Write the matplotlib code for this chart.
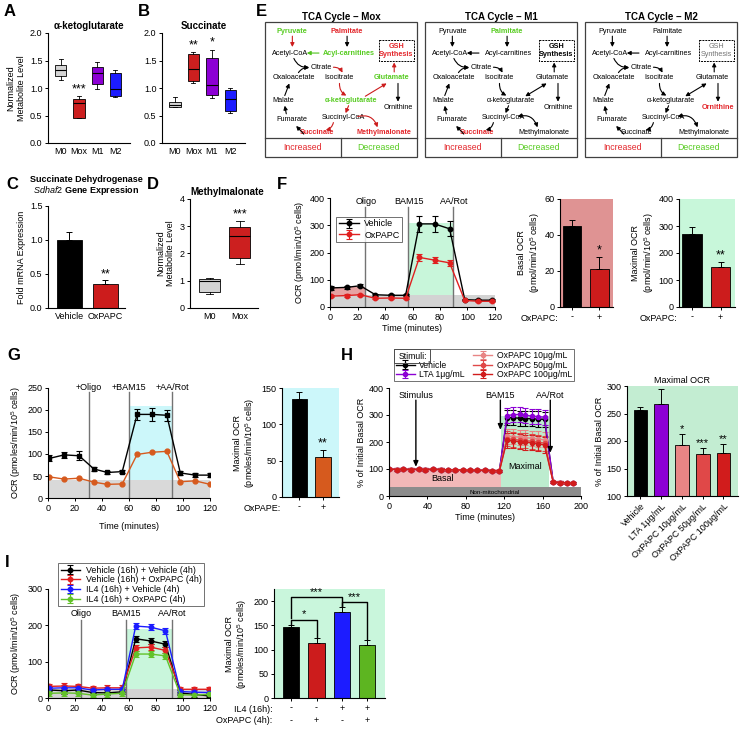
import numpy as np
import matplotlib
matplotlib.use('Agg')
import matplotlib.pyplot as plt
from matplotlib.patches import Rectangle
from matplotlib.lines import Line2D

plt.rcParams['font.family'] = ['Liberation Sans', 'DejaVu Sans']
plt.rcParams['mathtext.fontset'] = 'custom'
plt.rcParams['mathtext.rm'] = 'Liberation Sans'
plt.rcParams['mathtext.it'] = 'Liberation Sans:italic'
plt.rcParams['mathtext.bf'] = 'Liberation Sans:bold'
plt.rcParams['font.size'] = 6.5

W, H = 740, 731

# ---------------- data ----------------
# A / B: box plots (median, q1, q3, whisker low, whisker high)
ab_groups = ['M0', 'Mox', 'M1', 'M2']
a_med = [1.33, 0.73, 1.27, 0.98]
a_q1 = [1.22, 0.45, 1.07, 0.86]
a_q3 = [1.42, 0.80, 1.39, 1.27]
a_lo = [1.15, 0.45, 0.99, 0.83]
a_hi = [1.52, 0.85, 1.47, 1.32]
a_stars = ['', '***', '', '']

b_med = [0.70, 1.35, 1.06, 0.80]
b_q1 = [0.66, 1.12, 0.87, 0.59]
b_q3 = [0.75, 1.62, 1.55, 0.97]
b_lo = [0.65, 1.10, 0.82, 0.55]
b_hi = [0.83, 1.65, 1.70, 1.00]
b_stars = ['', '**', '*', '']

# C: Sdhaf2 expression
c_groups = ['Vehicle', 'OxPAPC']
c_vals = [1.0, 0.36]
c_err = [0.12, 0.05]
c_stars = ['', '**']

# D: methylmalonate
d_groups = ['M0', 'Mox']
d_med = [1.0, 2.63]
d_q1 = [0.58, 1.85]
d_q3 = [1.05, 2.98]
d_lo = [0.50, 1.62]
d_hi = [1.10, 3.20]
d_stars = ['', '***']

# F: Seahorse, vehicle vs OxPAPC
f_t = [1, 12, 22, 33, 44, 55, 65, 76, 87, 98, 108, 118]
f_veh = [70, 72, 78, 45, 43, 43, 305, 305, 287, 27, 25, 25]
f_veh_err = [6, 6, 6, 4, 4, 4, 30, 28, 28, 3, 3, 3]
f_ox = [40, 42, 45, 32, 33, 32, 182, 172, 162, 24, 21, 21]
f_ox_err = [4, 4, 4, 3, 3, 3, 12, 10, 10, 3, 3, 3]
f_inj = [25.5, 56.5, 89.7]
f_inj_labels = ['Oligo', 'BAM15', 'AA/Rot']
f_basal = [45, 21]
f_basal_err = [3.5, 7]
f_basal_stars = ['', '*']
f_max = [270, 150]
f_max_err = [27, 17]
f_max_stars = ['', '**']

# G: OxPAPE
g_t = [1, 12, 23, 34, 44, 55, 66, 77, 88, 98, 109, 120]
g_veh = [90, 98, 96, 66, 58, 60, 190, 190, 188, 57, 52, 52]
g_veh_err = [7, 6, 10, 5, 3, 4, 13, 14, 13, 5, 4, 4]
g_ox = [48, 43, 45, 36, 31, 32, 99, 104, 106, 37, 39, 31]
g_inj = [30, 60, 92]
g_inj_labels = ['+Oligo', '+BAM15', '+AA/Rot']
g_max = [135, 55]
g_max_err = [10, 10]
g_max_stars = ['', '**']

# H: stimuli, % of initial basal OCR
h_t = [0, 8, 15, 23, 31, 38, 46, 54, 61, 69, 77, 84, 92, 100, 107, 115,
       123, 129, 136, 142, 149, 155, 162, 171, 178, 185, 192]
h_basal = [100, 98, 99, 98, 99, 98, 99, 98, 97, 97, 96, 96, 95, 95, 94, 93]
h_post = [52, 50, 49, 48]
h_max = {
    'Vehicle': [290, 290, 288, 287, 286, 285, 284],
    'LTA 1μg/mL': [298, 301, 302, 299, 296, 294, 292],
    'OxPAPC 10μg/mL': [222, 220, 218, 216, 214, 211, 208],
    'OxPAPC 50μg/mL': [212, 210, 207, 205, 203, 199, 196],
    'OxPAPC 100μg/mL': [206, 204, 201, 199, 197, 193, 189],
}
h_max_err = [28, 28, 28, 28, 28, 28, 28]
h_groups = ['Vehicle', 'LTA 1μg/mL', 'OxPAPC 10μg/mL', 'OxPAPC 50μg/mL', 'OxPAPC 100μg/mL']
h_bar = [256, 267, 193, 176, 178]
h_bar_err = [6, 27, 20, 12, 17]
h_bar_stars = ['', '', '*', '***', '**']

# I: IL4 +/- OxPAPC
i_t = [1, 12, 22, 33, 44, 55, 65, 76, 87, 98, 108, 119]
i_series = {
    'Vehicle (16h) + Vehicle (4h)': [22, 20, 22, 15, 14, 17, 163, 157, 148, 14, 10, 6],
    'Vehicle (16h) + OxPAPC (4h)': [32, 33, 32, 27, 28, 28, 138, 140, 131, 24, 24, 24],
    'IL4 (16h) + Vehicle (4h)': [27, 28, 28, 22, 24, 24, 198, 195, 185, 18, 16, 15],
    'IL4 (16h) + OxPAPC (4h)': [13, 14, 13, 8, 11, 13, 121, 121, 116, 9, 8, 10],
}
i_err = [7, 8, 7, 6, 7, 7, 8, 8, 8, 7, 7, 7]
i_inj = [24.5, 58, 92]
i_inj_labels = ['Oligo', 'BAM15', 'AA/Rot']
i_max = [146, 113, 177, 109]
i_max_err = [5, 10, 10, 10]
i_il4 = ['-', '-', '+', '+']
i_oxpapc = ['-', '+', '-', '+']
i_brackets = [(0, 1, 162, 152, 124, '*'), (0, 2, 208, 165, 190, '***'),
              (2, 3, 199, 190, 122, '***')]

RED = '#cc1c1c'
PURPLE = '#8c00d4'
BLUE = '#1c1cff'
GREEN = '#5db521'
ORANGE = '#d65a1e'
LGRAY = '#d3d3d3'
TXT_RED = '#e3262b'
TXT_GREEN = '#58cc22'

fig = plt.figure(figsize=(W / 100, H / 100), dpi=100)


def add_ax(x0, y0, x1, y1):
    return fig.add_axes([x0 / W, 1 - y1 / H, (x1 - x0) / W, (y1 - y0) / H])


def clean(ax):
    for s in ['top', 'right']:
        ax.spines[s].set_visible(False)
    for s in ['left', 'bottom']:
        ax.spines[s].set_linewidth(0.8)
    ax.tick_params(labelsize=6.5, length=2.5, width=0.7, pad=1.5)


def panel_label(x, y, s):
    fig.text(x / W, 1 - y / H, s, fontsize=12, fontweight='bold', va='top', ha='left')


def boxpanel(ax, med, q1, q3, lo, hi, colors, stars, width, pad):
    stats = [dict(med=m, q1=a, q3=b, whislo=l, whishi=h, fliers=[])
             for m, a, b, l, h in zip(med, q1, q3, lo, hi)]
    pos = np.arange(1, len(med) + 1)
    bp = ax.bxp(stats, positions=pos, widths=width, patch_artist=True, showfliers=False,
                capwidths=width * 0.35,
                boxprops=dict(lw=0.6, edgecolor='k'),
                medianprops=dict(color='k', lw=0.8),
                whiskerprops=dict(lw=0.6), capprops=dict(lw=0.6))
    for patch, c in zip(bp['boxes'], colors):
        patch.set_facecolor(c)
    for p, h, s in zip(pos, hi, stars):
        if s:
            ax.text(p, h + pad, s, ha='center', va='bottom', fontsize=9)


def barpanel(ax, vals, errs, colors, stars, width, pad, fs=9):
    x = np.arange(len(vals))
    ax.bar(x, vals, width, color=colors, edgecolor='k', lw=0.6,
           yerr=[np.zeros(len(vals)), errs], capsize=2.2,
           error_kw=dict(elinewidth=0.7, capthick=0.7, ecolor='k'))
    for xi, v, e, s in zip(x, vals, errs, stars):
        if s:
            ax.text(xi, v + e + pad, s, ha='center', va='bottom', fontsize=fs)
    return x


def tc(ax, t, y, e, color, marker='o', label=None, ms=3.2):
    ax.errorbar(t, y, yerr=e, color=color, marker=marker, ms=ms, lw=1.0, capsize=2,
                elinewidth=0.8, capthick=0.8, label=label)


# ---------------- A / B ----------------
box_cols = ['#d4d4d4', '#cc1f1f', PURPLE, BLUE]
for lab, lx, (x0, x1), title, d in [
        ('A', 4, (48, 130), 'α-ketoglutarate', (a_med, a_q1, a_q3, a_lo, a_hi, a_stars)),
        ('B', 138, (162, 245), 'Succinate', (b_med, b_q1, b_q3, b_lo, b_hi, b_stars))]:
    ax = add_ax(x0, 33, x1, 143)
    clean(ax)
    boxpanel(ax, *d[:5], box_cols, d[5], 0.62, 0.02)
    ax.set_ylim(0, 2.0)
    ax.set_yticks([0, 0.5, 1.0, 1.5, 2.0])
    ax.set_yticklabels(['0.0', '0.5', '1.0', '1.5', '2.0'])
    ax.set_xlim(0.3, 4.8)
    ax.set_xticks(np.arange(1, 5))
    ax.set_xticklabels(ab_groups)
    ax.tick_params(axis='x', length=0, pad=3)
    ax.set_title(title, fontsize=7, fontweight='bold', pad=3)
    if lab == 'A':
        ax.set_ylabel('Normalized\nMetabolite Level', fontsize=6.5, labelpad=3)
    panel_label(lx, 4, lab)

# ---------------- C ----------------
ax = add_ax(48, 206, 125, 308)
clean(ax)
barpanel(ax, c_vals, c_err, ['k', RED], c_stars, 0.7, 0.0)
ax.set_ylim(0, 1.5)
ax.set_yticks([0, 0.5, 1.0, 1.5])
ax.set_yticklabels(['0.0', '0.5', '1.0', '1.5'])
ax.set_xlim(-0.6, 1.55)
ax.set_xticks([0, 1])
ax.set_xticklabels(c_groups)
ax.tick_params(axis='x', length=0, pad=3)
ax.set_ylabel('Fold mRNA Expression', fontsize=6.5, labelpad=3)
fig.text(86 / W, 1 - 186 / H, 'Succinate Dehydrogenase\n$\\it{Sdhaf2}$ Gene Expression',
         ha='center', va='center', fontsize=6.5, fontweight='bold', linespacing=1.1)
panel_label(6, 177, 'C')

# ---------------- D ----------------
ax = add_ax(190, 199, 258, 308)
clean(ax)
boxpanel(ax, d_med, d_q1, d_q3, d_lo, d_hi, ['#d4d4d4', '#cc1f1f'], d_stars, 0.7, 0.02)
ax.set_ylim(0, 4)
ax.set_yticks([0, 1, 2, 3, 4])
ax.set_xlim(0.35, 2.6)
ax.set_xticks([1, 2])
ax.set_xticklabels(d_groups)
ax.tick_params(axis='x', length=0, pad=3)
ax.set_ylabel('Normalized\nMetabolite Level', fontsize=6.5, labelpad=3)
ax.set_title('Methylmalonate', fontsize=7, fontweight='bold', pad=3, loc='left', x=0.0)
panel_label(147, 177, 'D')

# ---------------- E ----------------
nodes = {
    'Pyruvate': (0.18, 0.07), 'Palmitate': (0.54, 0.07),
    'Acetyl-CoA': (0.165, 0.23), 'Acyl-carnitines': (0.55, 0.23),
    'Citrate': (0.37, 0.34), 'Oxaloacetate': (0.19, 0.41),
    'Isocitrate': (0.49, 0.41), 'Glutamate': (0.835, 0.41),
    'Malate': (0.12, 0.58), 'α-ketoglutarate': (0.565, 0.58),
    'Ornithine': (0.877, 0.63), 'Fumarate': (0.175, 0.72),
    'Succinyl-CoA': (0.515, 0.71), 'Succinate': (0.34, 0.82),
    'Methylmalonate': (0.785, 0.82),
}
edges = {
    'pyr': (0.18, 0.105, 0.18, 0.185, 0), 'pal': (0.54, 0.105, 0.54, 0.185, 0),
    'acyl': (0.355, 0.23, 0.275, 0.23, 0), 'accoa': (0.19, 0.27, 0.29, 0.335, 0.35),
    'oaa': (0.22, 0.375, 0.29, 0.34, -0.3), 'cit': (0.45, 0.335, 0.51, 0.375, -0.3),
    'iso': (0.49, 0.455, 0.535, 0.545, 0.3), 'akg_glu': (0.66, 0.55, 0.80, 0.455, 0),
    'glu_gsh': (0.85, 0.37, 0.85, 0.30, 0), 'glu_orn': (0.875, 0.455, 0.875, 0.59, 0),
    'akg_succoa': (0.55, 0.62, 0.53, 0.675, 0),
    'succoa_suc': (0.45, 0.745, 0.40, 0.80, -0.3),
    'succoa_mma': (0.61, 0.70, 0.74, 0.78, -0.45),
    'suc_fum': (0.255, 0.83, 0.205, 0.77, 0), 'fum_mal': (0.14, 0.68, 0.13, 0.62, 0),
    'mal_oaa': (0.13, 0.545, 0.16, 0.455, 0),
}
e_panels = [
    (265, 'TCA Cycle – Mox',
     {'Palmitate': 'up', 'Succinate': 'up', 'Methylmalonate': 'up', 'GSH': 'up',
      'Pyruvate': 'down', 'Acyl-carnitines': 'down', 'Glutamate': 'down',
      'α-ketoglutarate': 'down'},
     {'pyr': RED, 'cit': RED, 'iso': RED, 'akg_glu': RED, 'glu_gsh': RED,
      'akg_succoa': RED, 'succoa_suc': RED, 'succoa_mma': RED, 'acyl': '#4fc21c'}, []),
    (425, 'TCA Cycle – M1', {'Palmitate': 'down', 'Succinate': 'up', 'GSH': 'bold'}, {},
     ['akg_glu', 'succoa_mma']),
    (585, 'TCA Cycle – M2', {'Ornithine': 'up', 'GSH': 'gray'}, {},
     ['akg_glu', 'succoa_mma']),
]
for x0, title, status, ecol, double in e_panels:
    ax = add_ax(x0, 22, x0 + 152, 157)
    ax.set_xlim(0, 1)
    ax.set_ylim(1, 0)
    ax.axis('off')
    ax.add_patch(Rectangle((0, 0), 1, 1, fill=False, lw=0.9, ec='0.25', clip_on=False))
    ax.plot([0, 1], [0.86, 0.86], color='0.25', lw=0.9, clip_on=False)
    ax.plot([0.5, 0.5], [0.86, 1], color='0.25', lw=0.9, clip_on=False)
    ax.text(0.25, 0.93, 'Increased', color=TXT_RED, ha='center', va='center', fontsize=6.3)
    ax.text(0.75, 0.93, 'Decreased', color=TXT_GREEN, ha='center', va='center', fontsize=6.3)
    ax.set_title(title, fontsize=7, fontweight='bold', pad=1.5)
    for name, (nx, ny) in nodes.items():
        st = status.get(name)
        col = TXT_RED if st == 'up' else TXT_GREEN if st == 'down' else 'k'
        wt = 'bold' if st in ('up', 'down') else 'normal'
        ax.text(nx, ny, name, ha='center', va='center', fontsize=5.2, color=col,
                fontweight=wt)
    ax.add_patch(Rectangle((0.75, 0.13), 0.23, 0.16, fill=False, ls=(0, (2, 1)),
                           lw=0.7, ec='k'))
    gst = status.get('GSH')
    gcol = TXT_RED if gst == 'up' else '0.45' if gst == 'gray' else 'k'
    ax.text(0.865, 0.21, 'GSH\nSynthesis', ha='center', va='center', fontsize=5.2,
            color=gcol, fontweight='normal' if gst == 'gray' else 'bold', linespacing=1.3)
    for key, (ax0, ay0, ax1, ay1, rad) in edges.items():
        style = '<|-|>' if key in double else '-|>'
        ax.annotate('', xy=(ax1, ay1), xytext=(ax0, ay0),
                    arrowprops=dict(arrowstyle=style + ',head_length=0.35,head_width=0.18',
                                    color=ecol.get(key, 'k'), lw=0.8, shrinkA=0,
                                    shrinkB=0, connectionstyle=f'arc3,rad={rad}'))
panel_label(256, 4, 'E')

# ---------------- F ----------------
ax = add_ax(330, 198, 495, 307)
clean(ax)
ax.fill_between([0, 120], 0, 45, color=LGRAY, lw=0)
ax.fill_between([0, f_inj[0]], 45, 75, color='#e7a3a3', lw=0)
ax.fill_between([f_inj[1], f_inj[2]], 45, 308, color='#c8f6da', lw=0)
for xi, lb in zip(f_inj, f_inj_labels):
    ax.plot([xi, xi], [0, 368], color='0.45', lw=1)
    ax.text(xi + 1, 372, lb, ha='center', va='bottom', fontsize=6.5)
tc(ax, f_t, f_veh, f_veh_err, 'k', label='Vehicle')
tc(ax, f_t, f_ox, f_ox_err, '#e02020', label='OxPAPC')
ax.set_xlim(0, 120)
ax.set_ylim(0, 400)
ax.set_xticks(range(0, 121, 20))
ax.set_yticks(range(0, 401, 100))
ax.set_xlabel('Time (minutes)', fontsize=6.5, labelpad=1.5)
ax.set_ylabel('OCR (pmol/min/10$^5$ cells)', fontsize=6.5, labelpad=2)
ax.legend(loc='upper left', bbox_to_anchor=(0.01, 0.87), fontsize=6.5, frameon=True,
          fancybox=False, edgecolor='0.3', handlelength=2.2, borderpad=0.3,
          labelspacing=0.25, handletextpad=0.6).get_frame().set_linewidth(0.7)
panel_label(277, 177, 'F')

for (x0, x1), vals, errs, stars, bg, ylim, yt, ylab in [
        ((560, 613), f_basal, f_basal_err, f_basal_stars, '#df9393', 60, 20,
         'Basal OCR\n(pmol/min/10$^5$ cells)'),
        ((679, 735), f_max, f_max_err, f_max_stars, '#c8f7da', 400, 100,
         'Maximal OCR\n(pmol/min/10$^5$ cells)')]:
    ax = add_ax(x0, 199, x1, 307)
    clean(ax)
    ax.set_facecolor(bg)
    barpanel(ax, vals, errs, ['k', RED], stars, 0.68, 0)
    ax.set_ylim(0, ylim)
    ax.set_yticks(range(0, ylim + 1, yt))
    ax.set_xlim(-0.45, 1.5)
    ax.set_xticks([0, 1])
    ax.set_xticklabels(['-', '+'])
    ax.set_ylabel(ylab, fontsize=6.5, labelpad=2)
    ax.annotate('OxPAPC:', xy=(0, 0), xycoords='axes fraction', xytext=(-1, -8),
                textcoords='offset points', ha='right', va='center', fontsize=6.5)

# ---------------- G ----------------
ax = add_ax(48, 388, 210, 498)
clean(ax)
ax.fill_between([0, 120], 0, 40, color='#d9d9d9', lw=0)
ax.fill_between([g_inj[1], g_inj[2]], 40, 210, color='#ccf7fa', lw=0)
for xi, lb in zip(g_inj, g_inj_labels):
    ax.plot([xi, xi], [0, 240], color='0.45', lw=1)
    ax.text(xi, 250, lb, ha='center', va='center', fontsize=6.5)
tc(ax, g_t, g_veh, g_veh_err, 'k', marker='s', ms=3.5)
ax.plot(g_t, g_ox, color=ORANGE, marker='o', ms=3.5, lw=1.0)
ax.set_xlim(0, 120)
ax.set_ylim(0, 250)
ax.set_xticks(range(0, 121, 20))
ax.set_yticks(range(0, 251, 50))
ax.set_xlabel('Time (minutes)', fontsize=6.5, labelpad=7)
ax.set_ylabel('OCR (pmoles/min/10$^5$ cells)', fontsize=6.5, labelpad=3)
panel_label(7, 348, 'G')

ax = add_ax(282, 388, 339, 497)
clean(ax)
ax.set_facecolor('#ccf7fa')
barpanel(ax, g_max, g_max_err, ['k', ORANGE], g_max_stars, 0.66, 0)
ax.set_ylim(0, 150)
ax.set_yticks([0, 50, 100, 150])
ax.set_xlim(-0.74, 1.68)
ax.set_xticks([0, 1])
ax.set_xticklabels(['-', '+'])
ax.set_ylabel('Maximal OCR\n(pmoles/min/10$^5$ cells)', fontsize=6.5, labelpad=3)
ax.annotate('OxPAPE:', xy=(0, 0), xycoords='axes fraction', xytext=(-1, -8),
            textcoords='offset points', ha='right', va='center', fontsize=6.5)

# ---------------- H ----------------
ax = add_ax(389, 388, 581, 496)
clean(ax)
ax.fill_between([0, 200], 0, 33, color='#8c8c8c', lw=0)
ax.fill_between([0, 117], 33, 100, color='#f2b8b8', lw=0)
ax.fill_between([117, 167], 33, 295, color='#bdeccf', lw=0)
ax.text(56, 63, 'Basal', ha='center', va='center', fontsize=6.5)
ax.text(142, 108, 'Maximal', ha='center', va='center', fontsize=6.5)
ax.text(110, 14, 'Non-mitochondrial', ha='center', va='center', fontsize=4.5)
h_cols = ['k', PURPLE, '#e88585', '#e04848', '#d11c1c']
n_b = len(h_basal)
for (name, mx), col in zip(h_max.items(), h_cols):
    yv = h_basal + mx + h_post
    ev = [4] * n_b + h_max_err + [4] * len(h_post)
    tc(ax, h_t, yv, ev, col, label=name, ms=3)
for xi, lb, ytip in [(28, 'Stimulus', 108), (116, 'BAM15', 245), (168, 'AA/Rot', 160)]:
    ax.text(xi, 372, lb, ha='center', va='center', fontsize=6.5)
    ax.annotate('', xy=(xi, ytip), xytext=(xi, 355),
                arrowprops=dict(arrowstyle='-|>,head_length=0.5,head_width=0.22',
                                color='k', lw=1, shrinkA=0, shrinkB=0))
ax.set_xlim(0, 200)
ax.set_ylim(0, 400)
ax.set_xticks(range(0, 201, 40))
ax.set_yticks(range(0, 401, 100))
ax.set_xlabel('Time (minutes)', fontsize=6.5, labelpad=1.5)
ax.set_ylabel('% of Initial Basal OCR', fontsize=6.5, labelpad=2)
hd, lb = ax.get_legend_handles_labels()
blank = Line2D([], [], color='none')
h_leg = ax.legend([blank] + hd, [''] + lb, ncol=2, loc='lower center',
                  bbox_to_anchor=(484 / W, 1 - 385 / H), bbox_transform=fig.transFigure,
                  fontsize=6.2, frameon=True, fancybox=False, edgecolor='0.3',
                  handlelength=2.2, borderpad=0.2, labelspacing=0.05, handletextpad=0.5,
                  columnspacing=1.0)
h_leg.get_frame().set_linewidth(0.7)
panel_label(341, 348, 'H')

ax = add_ax(627, 386, 738, 496)
clean(ax)
ax.set_facecolor('#c3edd2')
barpanel(ax, h_bar, h_bar_err, h_cols, h_bar_stars, 0.67, 0, fs=8)
ax.set_ylim(100, 300)
ax.set_yticks([100, 150, 200, 250, 300])
ax.set_xlim(-0.65, 4.7)
ax.set_xticks(range(5))
ax.set_xticklabels(h_groups, rotation=45, ha='right', rotation_mode='anchor')
ax.set_ylabel('% of Initial Basal OCR', fontsize=6.5, labelpad=2)
ax.set_title('Maximal OCR', fontsize=6.5, pad=2)

# ---------------- I ----------------
ax = add_ax(48, 589, 210, 698)
clean(ax)
ax.fill_between([0, 120], 0, 25, color=LGRAY, lw=0)
ax.fill_between([i_inj[1], i_inj[2]], 25, 190, color='#c9f6dc', lw=0)
for xi, lb in zip(i_inj, i_inj_labels):
    ax.plot([xi, xi], [0, 215], color='0.45', lw=1)
    ax.text(xi, 219, lb, ha='center', va='bottom', fontsize=6.5)
for (name, vals), col in zip(i_series.items(), ['k', '#e02020', BLUE, '#62c22a']):
    tc(ax, i_t, vals, i_err, col, label=name)
ax.set_xlim(0, 120)
ax.set_ylim(0, 300)
ax.set_xticks(range(0, 121, 20))
ax.set_yticks([0, 100, 200, 300])
ax.set_ylabel('OCR (pmol/min/10$^5$ cells)', fontsize=6.5, labelpad=3)
leg = ax.legend(loc='upper left', bbox_to_anchor=(54 / W, 1 - 559 / H),
                bbox_transform=fig.transFigure, fontsize=6.4, frameon=True,
                fancybox=False, edgecolor='0.3', handlelength=2.2, borderpad=0.25,
                labelspacing=0.08, handletextpad=0.6)
leg.get_frame().set_linewidth(0.7)
panel_label(5, 555, 'I')

ax = add_ax(274, 589, 385, 698)
clean(ax)
ax.set_facecolor('#c9f6dc')
x = barpanel(ax, i_max, i_max_err, ['k', RED, BLUE, GREEN], ['', '', '', ''], 0.63, 0)
for i, j, yb, yi, yj, s in i_brackets:
    ax.plot([x[i], x[i], x[j], x[j]], [yi, yb, yb, yj], color='k', lw=1)
    ax.text((x[i] + x[j]) / 2, yb, s, ha='center', va='bottom', fontsize=8)
ax.set_ylim(0, 225)
ax.set_yticks([0, 50, 100, 150, 200])
ax.set_xlim(-0.67, 3.69)
ax.set_xticks(x)
ax.set_xticklabels(i_il4)
ax.set_ylabel('Maximal OCR\n(pmoles/min/10$^5$ cells)', fontsize=6.5, labelpad=3)
ax.annotate('IL4 (16h):', xy=(0, 0), xycoords='axes fraction', xytext=(-1, -8),
            textcoords='offset points', ha='right', va='center', fontsize=6.5)
ax.annotate('OxPAPC (4h):', xy=(0, 0), xycoords='axes fraction', xytext=(-1, -16),
            textcoords='offset points', ha='right', va='center', fontsize=6.5)
for xi, s in zip(x, i_oxpapc):
    ax.annotate(s, xy=(xi, 0), xycoords=('data', 'axes fraction'), xytext=(0, -16),
                textcoords='offset points', ha='center', va='center', fontsize=6.5)

# "Stimuli:" header in its own small box at the top-left of the H legend
fig.canvas.draw()
rend = fig.canvas.get_renderer()
lbb = h_leg.get_window_extent(rend)
st = fig.text(lbb.x0 / W / 1.0 + 4 / W, lbb.y1 / H - 3 / H, 'Stimuli:', fontsize=6.2,
              ha='left', va='top')
sbb = st.get_window_extent(rend)
fig.add_artist(Rectangle((lbb.x0 / W, sbb.y0 / H - 1.5 / H), (sbb.x1 - lbb.x0 + 3) / W,
                         (lbb.y1 - sbb.y0 + 1.5) / H, transform=fig.transFigure,
                         fill=False, lw=0.7, ec='0.3'))

fig.savefig('out.png', dpi=100)
